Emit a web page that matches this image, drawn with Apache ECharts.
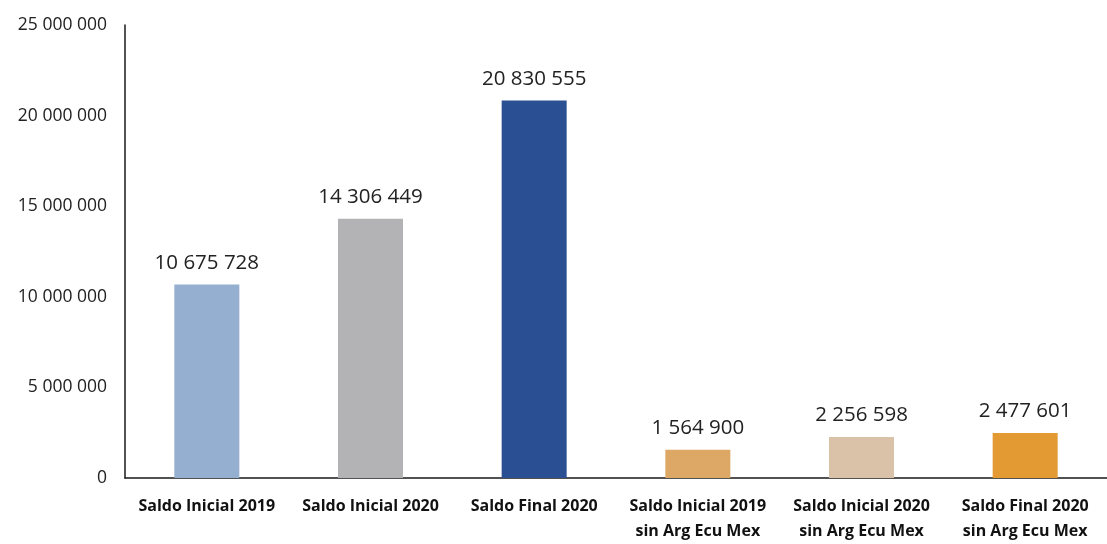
<!DOCTYPE html>
<html>
<head>
<meta charset="utf-8">
<script src="https://cdn.jsdelivr.net/npm/echarts@6/dist/echarts.min.js"></script>
<style>html,body{margin:0;padding:0;background:#fff}#c{width:1107px;height:544px}</style>
</head>
<body>
<div id="c"></div>
<script>
const categories = [
  "Saldo Inicial 2019",
  "Saldo Inicial 2020",
  "Saldo Final 2020",
  "Saldo Inicial 2019\nsin Arg Ecu Mex",
  "Saldo Inicial 2020\nsin Arg Ecu Mex",
  "Saldo Final 2020\nsin Arg Ecu Mex"
];
const values = [10675728, 14306449, 20830555, 1564900, 2256598, 2477601];
const barColors = ["#94AFCF", "#B3B3B6", "#2A4F93", "#DDA866", "#D9C2A7", "#E39A33"];
const yTicks = { min: 0, max: 25000000, interval: 5000000 };

function fmt(v) {
  return String(v).replace(/\B(?=(\d{3})+(?!\d))/g, " ");
}

const chart = echarts.init(document.getElementById('c'));
chart.setOption({
  animation: false,
  textStyle: { fontFamily: "Open Sans" },
  grid: { left: 125, width: 992, top: 25, height: 457, containLabel: false },
  xAxis: {
    type: 'category',
    data: categories,
    axisLine: { lineStyle: { color: '#1a1a1a', width: 1.5 } },
    axisTick: { show: false },
    axisLabel: {
      interval: 0,
      color: '#111',
      fontWeight: 'bold',
      fontSize: 16,
      lineHeight: 25,
      margin: 16,
      fontFamily: "Open Sans"
    }
  },
  yAxis: {
    type: 'value',
    min: yTicks.min, max: yTicks.max, interval: yTicks.interval,
    axisLine: { show: true, lineStyle: { color: '#1a1a1a', width: 1.5 } },
    axisTick: { show: false },
    splitLine: { show: false },
    axisLabel: {
      color: '#222',
      fontSize: 17.5,
      margin: 18,
      formatter: fmt,
      fontFamily: "Open Sans"
    }
  },
  series: [{
    type: 'bar',
    data: values.map((v, i) => ({ value: v, itemStyle: { color: barColors[i] } })),
    barWidth: 65,
    label: {
      show: true,
      position: 'top',
      distance: 11,
      color: '#222',
      fontSize: 20.5,
      formatter: p => fmt(p.value),
      fontFamily: "Open Sans"
    }
  }]
});
</script>
</body>
</html>
